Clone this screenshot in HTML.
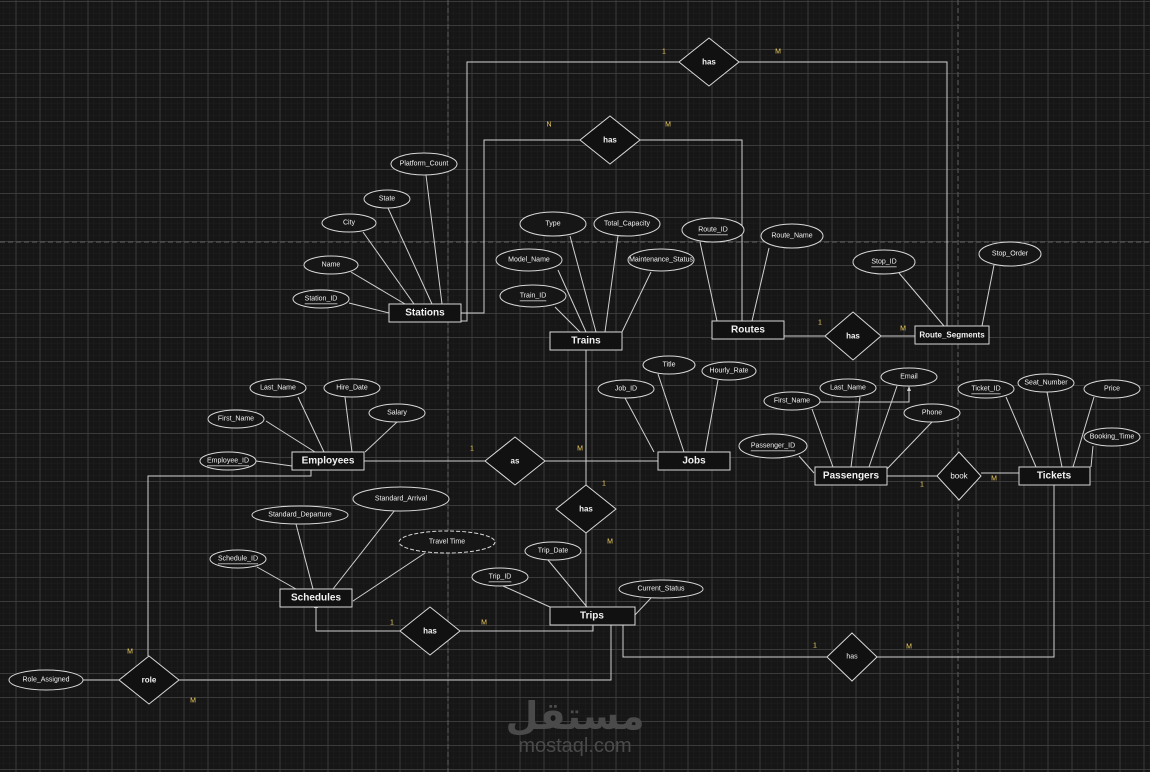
<!DOCTYPE html>
<html><head><meta charset="utf-8"><style>
html,body{margin:0;padding:0;background:#161616;}
svg{display:block}
text{font-family:"Liberation Sans",sans-serif;fill:#f2f2f2;}
.a{font-size:7px;text-anchor:middle;dominant-baseline:central}
.e{font-size:10px;font-weight:bold;text-anchor:middle;dominant-baseline:central}
.r{font-size:8px;font-weight:bold;text-anchor:middle;dominant-baseline:central}
.c{font-size:7px;fill:#f0d060;text-anchor:middle;dominant-baseline:central}
</style></head><body>
<svg width="1150" height="772" xmlns="http://www.w3.org/2000/svg">
<defs>
<pattern id="mi" width="6" height="6" patternUnits="userSpaceOnUse" x="15.5" y="1"><path d="M0 0H6M0 0V6" stroke="#1f1f1f" stroke-width="1" fill="none"/></pattern>
<pattern id="ma" width="24" height="24" patternUnits="userSpaceOnUse" x="15.5" y="1"><path d="M0 0.5H24M0.5 0V24" stroke="#3a3a3a" stroke-width="1" fill="none"/></pattern>
</defs>
<rect width="1150" height="772" fill="#161616"/>
<rect width="1150" height="772" fill="url(#mi)"/>
<rect width="1150" height="772" fill="url(#ma)"/>
<g stroke="#555" stroke-width="1.2" stroke-dasharray="5,3" fill="none">
<path d="M448 0V772M958 0V772M0 242H1150"/>
</g>
<!-- watermark -->
<text x="575" y="716" style="font-family:'DejaVu Sans',sans-serif;font-size:38px;font-weight:bold;fill:#4a4a4a;text-anchor:middle;dominant-baseline:central">مستقل</text>
<text x="575" y="746" style="font-size:20px;fill:#4a4a4a;text-anchor:middle;dominant-baseline:central">mostaql.com</text>

<g stroke="#d0d0d0" stroke-width="1" fill="none">
<path d="M460 321H467V62H679M739 62H947V326"/>
<path d="M460 313H484V140H580M640 140H742V321"/>
<path d="M784 336H825M881 336H915"/>
<path d="M364 461H485M545 461H658"/>
<path d="M586 350V485M586 533V607"/>
<path d="M311 470V476H148V656"/>
<path d="M179 680H611V625"/>
<path d="M83 680H119"/>
<path d="M593 625V631H460M400 631H316V607"/>
<path d="M623 625V657H827M877 657H1054V485"/>
<path d="M887 476H937M981 473H1019"/>
<path d="M818 402H909V389"/>
<path d="M426 175L442 304M388 208L432 304M363 232L414 304M351 272L405 304M349 303L389 313"/>
<path d="M570 236L596 332M618 236L605 332M558 270L586 332M651 272L622 332M555 307L580 332"/>
<path d="M700 242L717 321M769 248L752 321"/>
<path d="M899 273L944 326M994 265L982 326"/>
<path d="M298 397L324 452M345 397L352 452M266 421L315 452M397 422L365 452M256 461L292 466"/>
<path d="M658 374L684 452M718 380L705 452M625 398L654 452"/>
<path d="M860 397L851 467M812 409L833 467M897 386L869 467M932 422L886 470M799 456L814 473"/>
<path d="M1006 397L1036 467M1047 392L1062 467M1094 397L1073 467M1093 446L1091 467"/>
<path d="M395 510L333 589M296 524L313 589M425 553L353 601M257 567L296 589"/>
<path d="M548 560L587 607M503 586L550 607M651 598L634 616"/>
</g>
<polygon points="316,603 314,608 318,608" fill="#d0d0d0"/>
<polygon points="909,386 907,391 911,391" fill="#d0d0d0"/>

<g fill="#161616" stroke="#d8d8d8" stroke-width="1">
<ellipse cx="424" cy="164" rx="33" ry="11"/>
<ellipse cx="387" cy="199" rx="23" ry="9"/>
<ellipse cx="349" cy="223" rx="27" ry="9"/>
<ellipse cx="331" cy="265" rx="27" ry="9"/>
<ellipse cx="321" cy="299" rx="28" ry="9"/>
<ellipse cx="553" cy="224" rx="33" ry="12"/>
<ellipse cx="627" cy="224" rx="33" ry="12"/>
<ellipse cx="529" cy="260" rx="33" ry="11"/>
<ellipse cx="661" cy="260" rx="33" ry="11"/>
<ellipse cx="533" cy="296" rx="33" ry="11"/>
<ellipse cx="713" cy="230" rx="31" ry="12"/>
<ellipse cx="792" cy="236" rx="31" ry="12"/>
<ellipse cx="884" cy="262" rx="31" ry="12"/>
<ellipse cx="1010" cy="254" rx="31" ry="12"/>
<ellipse cx="278" cy="388" rx="28" ry="9"/>
<ellipse cx="352" cy="388" rx="28" ry="9"/>
<ellipse cx="236" cy="419" rx="28" ry="9"/>
<ellipse cx="397" cy="413" rx="28" ry="9"/>
<ellipse cx="228" cy="461" rx="28" ry="9"/>
<ellipse cx="669" cy="365" rx="26" ry="9"/>
<ellipse cx="729" cy="371" rx="27" ry="9"/>
<ellipse cx="626" cy="389" rx="28" ry="9"/>
<ellipse cx="909" cy="377" rx="28" ry="9"/>
<ellipse cx="848" cy="388" rx="28" ry="9"/>
<ellipse cx="792" cy="401" rx="28" ry="9"/>
<ellipse cx="932" cy="413" rx="28" ry="9"/>
<ellipse cx="773" cy="446" rx="34" ry="12"/>
<ellipse cx="986" cy="389" rx="28" ry="9"/>
<ellipse cx="1046" cy="383" rx="28" ry="9"/>
<ellipse cx="1112" cy="389" rx="28" ry="9"/>
<ellipse cx="1112" cy="437" rx="28" ry="9"/>
<ellipse cx="401" cy="499" rx="48" ry="12"/>
<ellipse cx="300" cy="515" rx="48" ry="9"/>
<ellipse cx="447" cy="542" rx="48" ry="11" stroke-dasharray="4,2"/>
<ellipse cx="238" cy="559" rx="28" ry="9"/>
<ellipse cx="553" cy="551" rx="28" ry="9"/>
<ellipse cx="500" cy="577" rx="28" ry="9"/>
<ellipse cx="661" cy="589" rx="42" ry="9"/>
<ellipse cx="46" cy="680" rx="37" ry="10"/>
</g>
<g>
<text class="a" x="424" y="164">Platform_Count</text>
<text class="a" x="387" y="199">State</text>
<text class="a" x="349" y="223">City</text>
<text class="a" x="331" y="265">Name</text>
<text class="a" x="321" y="299" text-decoration="underline">Station_ID</text>
<text class="a" x="553" y="224">Type</text>
<text class="a" x="627" y="224">Total_Capacity</text>
<text class="a" x="529" y="260">Model_Name</text>
<text class="a" x="661" y="260">Maintenance_Status</text>
<text class="a" x="533" y="296" text-decoration="underline">Train_ID</text>
<text class="a" x="713" y="230" text-decoration="underline">Route_ID</text>
<text class="a" x="792" y="236">Route_Name</text>
<text class="a" x="884" y="262" text-decoration="underline">Stop_ID</text>
<text class="a" x="1010" y="254">Stop_Order</text>
<text class="a" x="278" y="388">Last_Name</text>
<text class="a" x="352" y="388">Hire_Date</text>
<text class="a" x="236" y="419">First_Name</text>
<text class="a" x="397" y="413">Salary</text>
<text class="a" x="228" y="461" text-decoration="underline">Employee_ID</text>
<text class="a" x="669" y="365">Title</text>
<text class="a" x="729" y="371">Hourly_Rate</text>
<text class="a" x="626" y="389">Job_ID</text>
<text class="a" x="909" y="377">Email</text>
<text class="a" x="848" y="388">Last_Name</text>
<text class="a" x="792" y="401">First_Name</text>
<text class="a" x="932" y="413">Phone</text>
<text class="a" x="773" y="446" text-decoration="underline">Passenger_ID</text>
<text class="a" x="986" y="389" text-decoration="underline">Ticket_ID</text>
<text class="a" x="1046" y="383">Seat_Number</text>
<text class="a" x="1112" y="389">Price</text>
<text class="a" x="1112" y="437">Booking_Time</text>
<text class="a" x="401" y="499">Standard_Arrival</text>
<text class="a" x="300" y="515">Standard_Departure</text>
<text class="a" x="447" y="542">Travel Time</text>
<text class="a" x="238" y="559" text-decoration="underline">Schedule_ID</text>
<text class="a" x="553" y="551">Trip_Date</text>
<text class="a" x="500" y="577" text-decoration="underline">Trip_ID</text>
<text class="a" x="661" y="589">Current_Status</text>
<text class="a" x="46" y="680">Role_Assigned</text>
</g>

<g fill="#111" stroke="#d8d8d8" stroke-width="1">
<rect x="389" y="304" width="72" height="18"/>
<rect x="550" y="332" width="72" height="18"/>
<rect x="712" y="321" width="72" height="18"/>
<rect x="915" y="326" width="74" height="18"/>
<rect x="292" y="452" width="72" height="18"/>
<rect x="658" y="452" width="72" height="18"/>
<rect x="815" y="467" width="72" height="18"/>
<rect x="1019" y="467" width="71" height="18"/>
<rect x="280" y="589" width="72" height="18"/>
<rect x="550" y="607" width="85" height="18"/>
</g>
<text class="e" x="425" y="313">Stations</text>
<text class="e" x="586" y="341">Trains</text>
<text class="e" x="748" y="330">Routes</text>
<text class="e" x="952" y="335" style="font-size:8px">Route_Segments</text>
<text class="e" x="328" y="461">Employees</text>
<text class="e" x="694" y="461">Jobs</text>
<text class="e" x="851" y="476">Passengers</text>
<text class="e" x="1054" y="476">Tickets</text>
<text class="e" x="316" y="598">Schedules</text>
<text class="e" x="592" y="616">Trips</text>

<g fill="#111" stroke="#d8d8d8" stroke-width="1">
<polygon points="709,38 739,62 709,86 679,62"/>
<polygon points="610,116 640,140 610,164 580,140"/>
<polygon points="853,312 881,336 853,360 825,336"/>
<polygon points="515,437 545,461 515,485 485,461"/>
<polygon points="586,485 616,509 586,533 556,509"/>
<polygon points="959,452 981,476 959,500 937,476"/>
<polygon points="430,607 460,631 430,655 400,631"/>
<polygon points="852,633 877,657 852,681 827,657"/>
<polygon points="149,656 179,680 149,704 119,680"/>
</g>
<text class="r" x="709" y="62">has</text>
<text class="r" x="610" y="140">has</text>
<text class="r" x="853" y="336">has</text>
<text class="r" x="515" y="461">as</text>
<text class="r" x="586" y="509">has</text>
<text class="r" x="959" y="476" style="font-weight:normal">book</text>
<text class="r" x="430" y="631">has</text>
<text class="r" x="852" y="657" style="font-size:7px;font-weight:normal">has</text>
<text class="r" x="149" y="680">role</text>

<text class="c" x="664" y="52">1</text><text class="c" x="778" y="52">M</text>
<text class="c" x="549" y="125">N</text><text class="c" x="668" y="125">M</text>
<text class="c" x="820" y="323">1</text><text class="c" x="903" y="329">M</text>
<text class="c" x="472" y="449">1</text><text class="c" x="580" y="449">M</text>
<text class="c" x="604" y="484">1</text><text class="c" x="610" y="542">M</text>
<text class="c" x="922" y="485">1</text><text class="c" x="994" y="479">M</text>
<text class="c" x="392" y="623">1</text><text class="c" x="484" y="623">M</text>
<text class="c" x="815" y="646">1</text><text class="c" x="909" y="647">M</text>
<text class="c" x="130" y="652">M</text><text class="c" x="193" y="701">M</text>
</svg>
</body></html>
